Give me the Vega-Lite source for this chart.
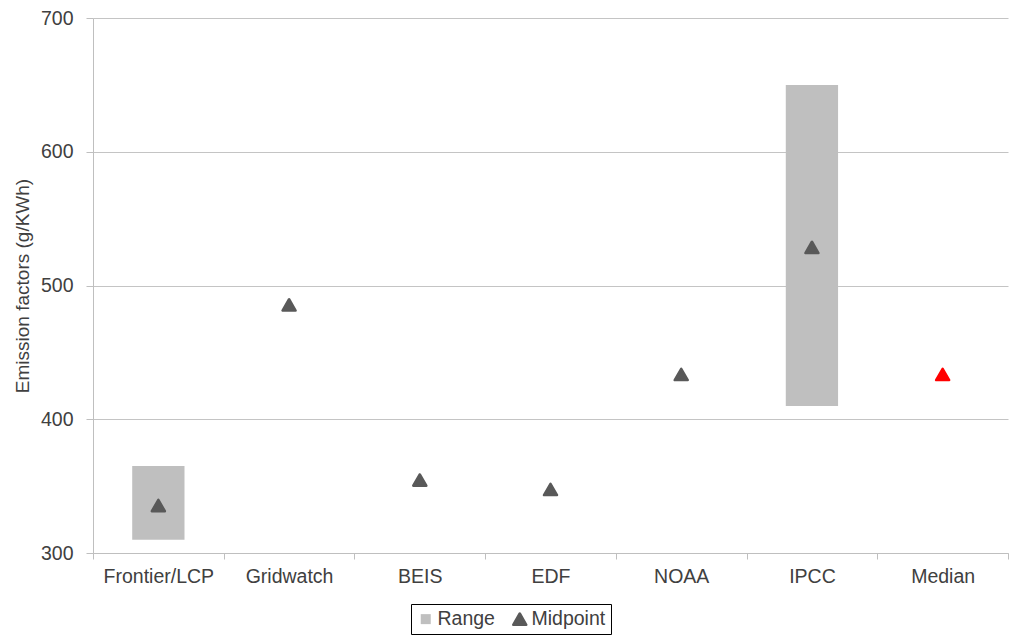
{
  "$schema": "https://vega.github.io/schema/vega-lite/v6.json",
  "autosize": "none",
  "width": 915,
  "height": 535,
  "padding": {"left": 93, "top": 18, "right": 1, "bottom": 83},
  "background": "white",
  "config": {
    "view": {"stroke": null},
    "font": "Liberation Sans",
    "axis": {
      "labelFont": "Liberation Sans",
      "titleFont": "Liberation Sans",
      "labelColor": "#404040",
      "titleColor": "#404040",
      "domainColor": "#bfbfbf",
      "tickColor": "#bfbfbf",
      "gridColor": "#c4c4c4",
      "labelFontSize": 19.5,
      "titleFontWeight": "normal"
    },
    "legend": {
      "labelFont": "Liberation Sans",
      "labelFontSize": 19.5,
      "labelColor": "#404040"
    }
  },
  "data": {
    "values": [
      {"source": "Frontier/LCP", "series": "Range", "low": 310, "high": 365},
      {"source": "IPCC", "series": "Range", "low": 410, "high": 650},
      {"source": "Frontier/LCP", "series": "Midpoint", "value": 337},
      {"source": "Gridwatch", "series": "Midpoint", "value": 487},
      {"source": "BEIS", "series": "Midpoint", "value": 356},
      {"source": "EDF", "series": "Midpoint", "value": 349},
      {"source": "NOAA", "series": "Midpoint", "value": 435},
      {"source": "IPCC", "series": "Midpoint", "value": 530},
      {"source": "Median", "series": "Midpoint", "value": 435}
    ]
  },
  "encoding": {
    "x": {
      "field": "source",
      "type": "nominal",
      "sort": ["Frontier/LCP", "Gridwatch", "BEIS", "EDF", "NOAA", "IPCC", "Median"],
      "scale": {"paddingInner": 0, "paddingOuter": 0},
      "axis": {
        "title": null,
        "labelAngle": 0,
        "tickBand": "extent",
        "tickSize": 6,
        "labelPadding": 8,
        "grid": false
      }
    }
  },
  "layer": [
    {
      "transform": [{"filter": "datum.series === 'Range'"}],
      "mark": {"type": "bar", "width": {"band": 0.4}},
      "encoding": {
        "y": {
          "field": "low",
          "type": "quantitative",
          "scale": {"domain": [300, 700], "nice": false, "zero": false},
          "axis": {
            "title": "Emission factors (g/KWh)",
            "titleFontSize": 19,
            "titlePadding": 8,
            "values": [300, 400, 500, 600, 700],
            "tickSize": 7,
            "labelPadding": 13,
            "grid": true
          }
        },
        "y2": {"field": "high"},
        "color": {
          "field": "series",
          "type": "nominal",
          "scale": {"domain": ["Range", "Midpoint"], "range": ["#bfbfbf", "#595959"]},
          "legend": {
            "title": null,
            "orient": "none",
            "direction": "horizontal",
            "legendX": 318,
            "legendY": 586,
            "strokeColor": "#000000",
            "padding": 5,
            "symbolSize": 150,
            "columnPadding": 15,
            "labelOffset": 2,
            "encode": {
              "symbols": {
                "update": {
                  "size": {"signal": "datum.value === 'Range' ? 100 : 170"},
                  "stroke": {"scale": "color", "field": "value"},
                  "strokeWidth": {"signal": "datum.value === 'Range' ? 0 : 2.5"},
                  "strokeJoin": {"value": "round"}
                }
              }
            }
          }
        }
      }
    },
    {
      "transform": [{"filter": "datum.series === 'Midpoint' && datum.source !== 'Median'"}],
      "mark": {
        "type": "point",
        "filled": true,
        "opacity": 1,
        "size": 170,
        "stroke": "#595959",
        "strokeWidth": 2.5,
        "strokeJoin": "round",
        "yOffset": 2
      },
      "encoding": {
        "y": {"field": "value", "type": "quantitative"},
        "color": {"field": "series", "type": "nominal"},
        "shape": {
          "field": "series",
          "type": "nominal",
          "scale": {"domain": ["Range", "Midpoint"], "range": ["square", "triangle-up"]}
        }
      }
    },
    {
      "transform": [{"filter": "datum.source === 'Median'"}],
      "mark": {
        "type": "point",
        "shape": "triangle-up",
        "filled": true,
        "opacity": 1,
        "size": 170,
        "fill": "#ff0000",
        "stroke": "#ff0000",
        "strokeWidth": 2.5,
        "strokeJoin": "round",
        "yOffset": 2
      },
      "encoding": {
        "y": {"field": "value", "type": "quantitative"}
      }
    }
  ]
}
